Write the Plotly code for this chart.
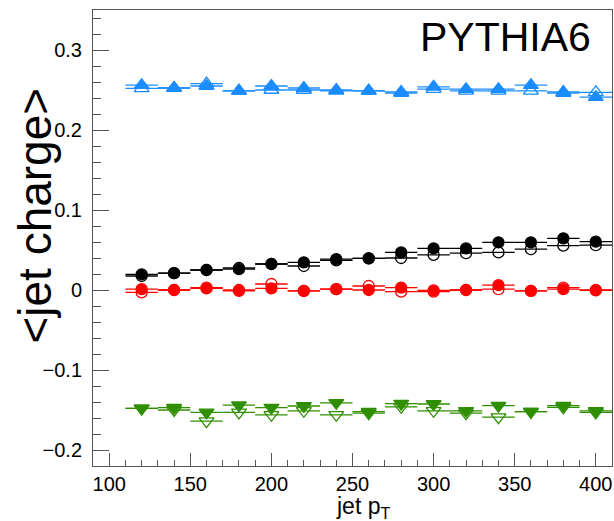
import plotly.graph_objects as go

pt = [120, 140, 160, 180, 200, 220, 240, 260, 280, 300, 320, 340, 360, 380, 400]
bin_half = [10] * 15

blue_filled = [0.256, 0.2525, 0.255, 0.249, 0.255, 0.2525, 0.250, 0.249, 0.2475, 0.254, 0.251, 0.251, 0.256, 0.2475, 0.241]
blue_open = [0.252, 0.2525, 0.258, 0.249, 0.250, 0.250, 0.249, 0.249, 0.246, 0.251, 0.249, 0.249, 0.249, 0.246, 0.247]

black_filled = [0.0196, 0.021, 0.025, 0.026, 0.0325, 0.0346, 0.0387, 0.0396, 0.047, 0.052, 0.052, 0.0596, 0.0596, 0.0646, 0.0604]
black_open = [0.0175, 0.021, 0.025, 0.0275, 0.0325, 0.030, 0.037, 0.0396, 0.040, 0.044, 0.046, 0.047, 0.051, 0.0554, 0.056]

red_filled = [0.001, 0.0, 0.002, -0.001, 0.002, -0.001, 0.001, 0.0, 0.003, -0.0005, 0.0, 0.006, -0.001, 0.001, -0.0005]
red_open = [-0.003, 0.0, 0.003, 0.0, 0.0075, -0.001, 0.001, 0.005, -0.002, -0.002, 0.0, 0.001, -0.001, 0.003, 0.0]

green_filled = [-0.148, -0.147, -0.153, -0.144, -0.147, -0.145, -0.141, -0.152, -0.142, -0.1425, -0.151, -0.1446, -0.152, -0.1446, -0.151]
green_open = [-0.148, -0.150, -0.164, -0.153, -0.156, -0.151, -0.156, -0.154, -0.146, -0.151, -0.154, -0.159, -0.152, -0.1466, -0.153]

BLUE = "#1a8cff"
BLACK = "#000000"
RED = "#ff0000"
GREEN = "#2f8f00"

series = [
    (blue_open, BLUE, "triangle-up-open", 13),
    (blue_filled, BLUE, "triangle-up", 13),
    (black_open, BLACK, "circle-open", 11),
    (black_filled, BLACK, "circle", 11),
    (red_open, RED, "circle-open", 11),
    (red_filled, RED, "circle", 11),
    (green_open, GREEN, "triangle-down-open", 13),
    (green_filled, GREEN, "triangle-down", 13),
]

fig = go.Figure()
for vals, col, sym, size in series:
    fig.add_trace(go.Scatter(
        x=pt, y=vals, mode="markers",
        marker=dict(color=col, symbol=sym, size=size, line=dict(color=col, width=1.3)),
        error_x=dict(type="data", array=bin_half, visible=True, color=col, thickness=1.3, width=0),
        showlegend=False,
    ))

FONT = "Liberation Sans, Arial, sans-serif"
axis_font = dict(family=FONT, size=20, color="black")

fig.update_layout(
    width=614, height=521,
    margin=dict(l=93, r=2, t=10, b=55),
    paper_bgcolor="white", plot_bgcolor="white",
    xaxis=dict(
        range=[90, 410], tickvals=[100, 150, 200, 250, 300, 350, 400],
        ticks="inside", ticklen=13, tickwidth=1, tickcolor="#555",
        minor=dict(dtick=10, tick0=0, ticks="inside", ticklen=6, tickcolor="#555"),
        showline=True, linecolor="#555", linewidth=1, mirror=True,
        showgrid=False, zeroline=False, tickfont=axis_font,
    ),
    yaxis=dict(
        range=[-0.22, 0.35], tickvals=[-0.2, -0.1, 0, 0.1, 0.2, 0.3],
        ticktext=["\u22120.2", "\u22120.1", "0", "0.1", "0.2", "0.3"],
        ticks="inside", ticklen=16, tickwidth=1, tickcolor="#555",
        minor=dict(dtick=0.02, tick0=0, ticks="inside", ticklen=8, tickcolor="#555"),
        showline=True, linecolor="#555", linewidth=1, mirror=True,
        showgrid=False, zeroline=False, tickfont=axis_font,
        ticklabelstandoff=6,
    ),
    annotations=[
        dict(text="PYTHIA6", xref="paper", yref="paper", x=0.964, y=0.941,
             xanchor="right", yanchor="middle", showarrow=False,
             font=dict(family=FONT, size=41, color="black")),
        dict(text="&lt;jet charge&gt;", xref="paper", yref="paper", x=-0.111, y=0.55,
             xanchor="center", yanchor="middle", textangle=-90, showarrow=False,
             font=dict(family=FONT, size=46, color="black")),
        dict(text="jet p<sub>T</sub>", xref="paper", yref="paper", x=0.52, y=-0.054,
             xanchor="center", yanchor="top", showarrow=False,
             font=dict(family=FONT, size=23, color="black")),
    ],
)

fig.write_html("out.html", config={"displayModeBar": False},
               post_script="document.body.style.margin='0px';document.body.style.overflow='hidden';")
